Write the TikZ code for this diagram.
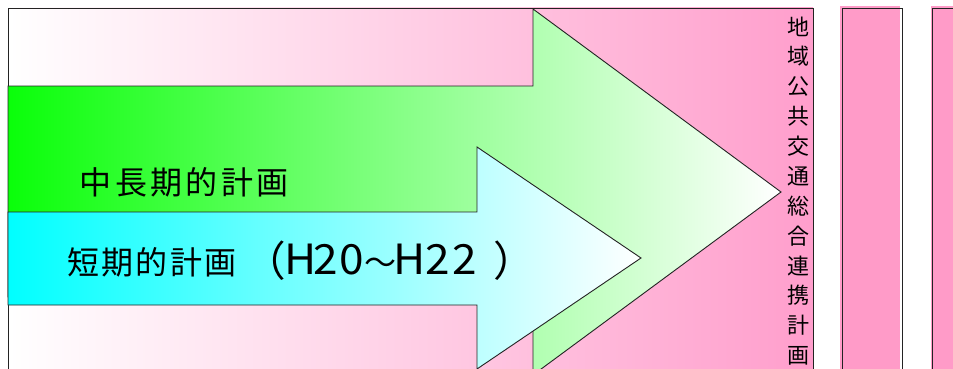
\documentclass[tikz,border=0pt]{standalone}
\usepackage{fontspec}
\newfontfamily\jp{Noto Sans CJK JP}
\definecolor{bgpink}{RGB}{255,158,204}
\definecolor{boxpink}{RGB}{255,155,200}
\definecolor{arrowgreen}{RGB}{10,255,10}
\definecolor{arrowcyan}{RGB}{0,255,255}
\definecolor{edge}{RGB}{35,35,35}
\newcommand\cb[2]{\makebox[#1]{#2}}
\newcommand\lb[2]{\makebox[#1]{\scalebox{1.38}[1.3]{#2}}}
\tikzset{
  outline/.style={draw=edge, line width=0.9pt, line join=miter},
  bigtext/.style={font=\jp\fontsize{32}{40}\selectfont, inner sep=0pt, anchor=base west},
  vtext/.style={font=\jp\fontsize{22}{26}\selectfont, inner sep=0pt}
}
\begin{document}
\begin{tikzpicture}[x=1pt,y=-1pt]
\useasboundingbox (0,0) rectangle (953,369);
\clip (0,0) rectangle (953,369);
% background panel
\draw[outline, left color=white, right color=bgpink] (8,8) rectangle (813,385);
% long-term arrow
\draw[outline, left color=arrowgreen, right color=white]
  (8,86) -- (533,86) -- (533,9) -- (781,192) -- (533,375) -- (533,297) -- (8,297) -- cycle;
% short-term arrow
\draw[outline, left color=arrowcyan, right color=white]
  (8,212) -- (477,212) -- (477,147) -- (641,258) -- (477,369) -- (477,305) -- (8,305) -- cycle;
% side columns
\fill[boxpink] (840,6) rectangle (900,385);
\draw[outline] (842,8) rectangle (902,385);
\fill[boxpink] (931,6) rectangle (960,385);
\draw[outline] (932,8) rectangle (960,385);
% labels
\node[bigtext] (midterm) at (78,194)
  {\cb{35.3pt}{中}\cb{35.3pt}{長}\cb{35.3pt}{期}\cb{35.3pt}{的}\cb{35.3pt}{計}\cb{35.3pt}{画}};
\node[bigtext] (shortterm) at (66,274)
  {\cb{34.3pt}{短}\cb{34.3pt}{期}\cb{34.3pt}{的}\cb{34.3pt}{計}\cb{34.3pt}{画}%
   \makebox[50pt][r]{\raisebox{-2pt}{\scalebox{1.3}{（}}\hspace{2pt}}%
   \lb{25pt}{H}\lb{26pt}{2}\lb{27pt}{0}\cb{30pt}{～}%
   \lb{28pt}{H}\lb{28pt}{2}\lb{27pt}{2}\hspace{14.5pt}\raisebox{-2pt}{\scalebox{1.3}{）}}};
\foreach \c [count=\i] in {地,域,公,共,交,通,総,合,連,携,計,画}
  \node[vtext] (v\i) at (798,{26.5+(\i-1)*29.9}) {\c};
\end{tikzpicture}
\end{document}
